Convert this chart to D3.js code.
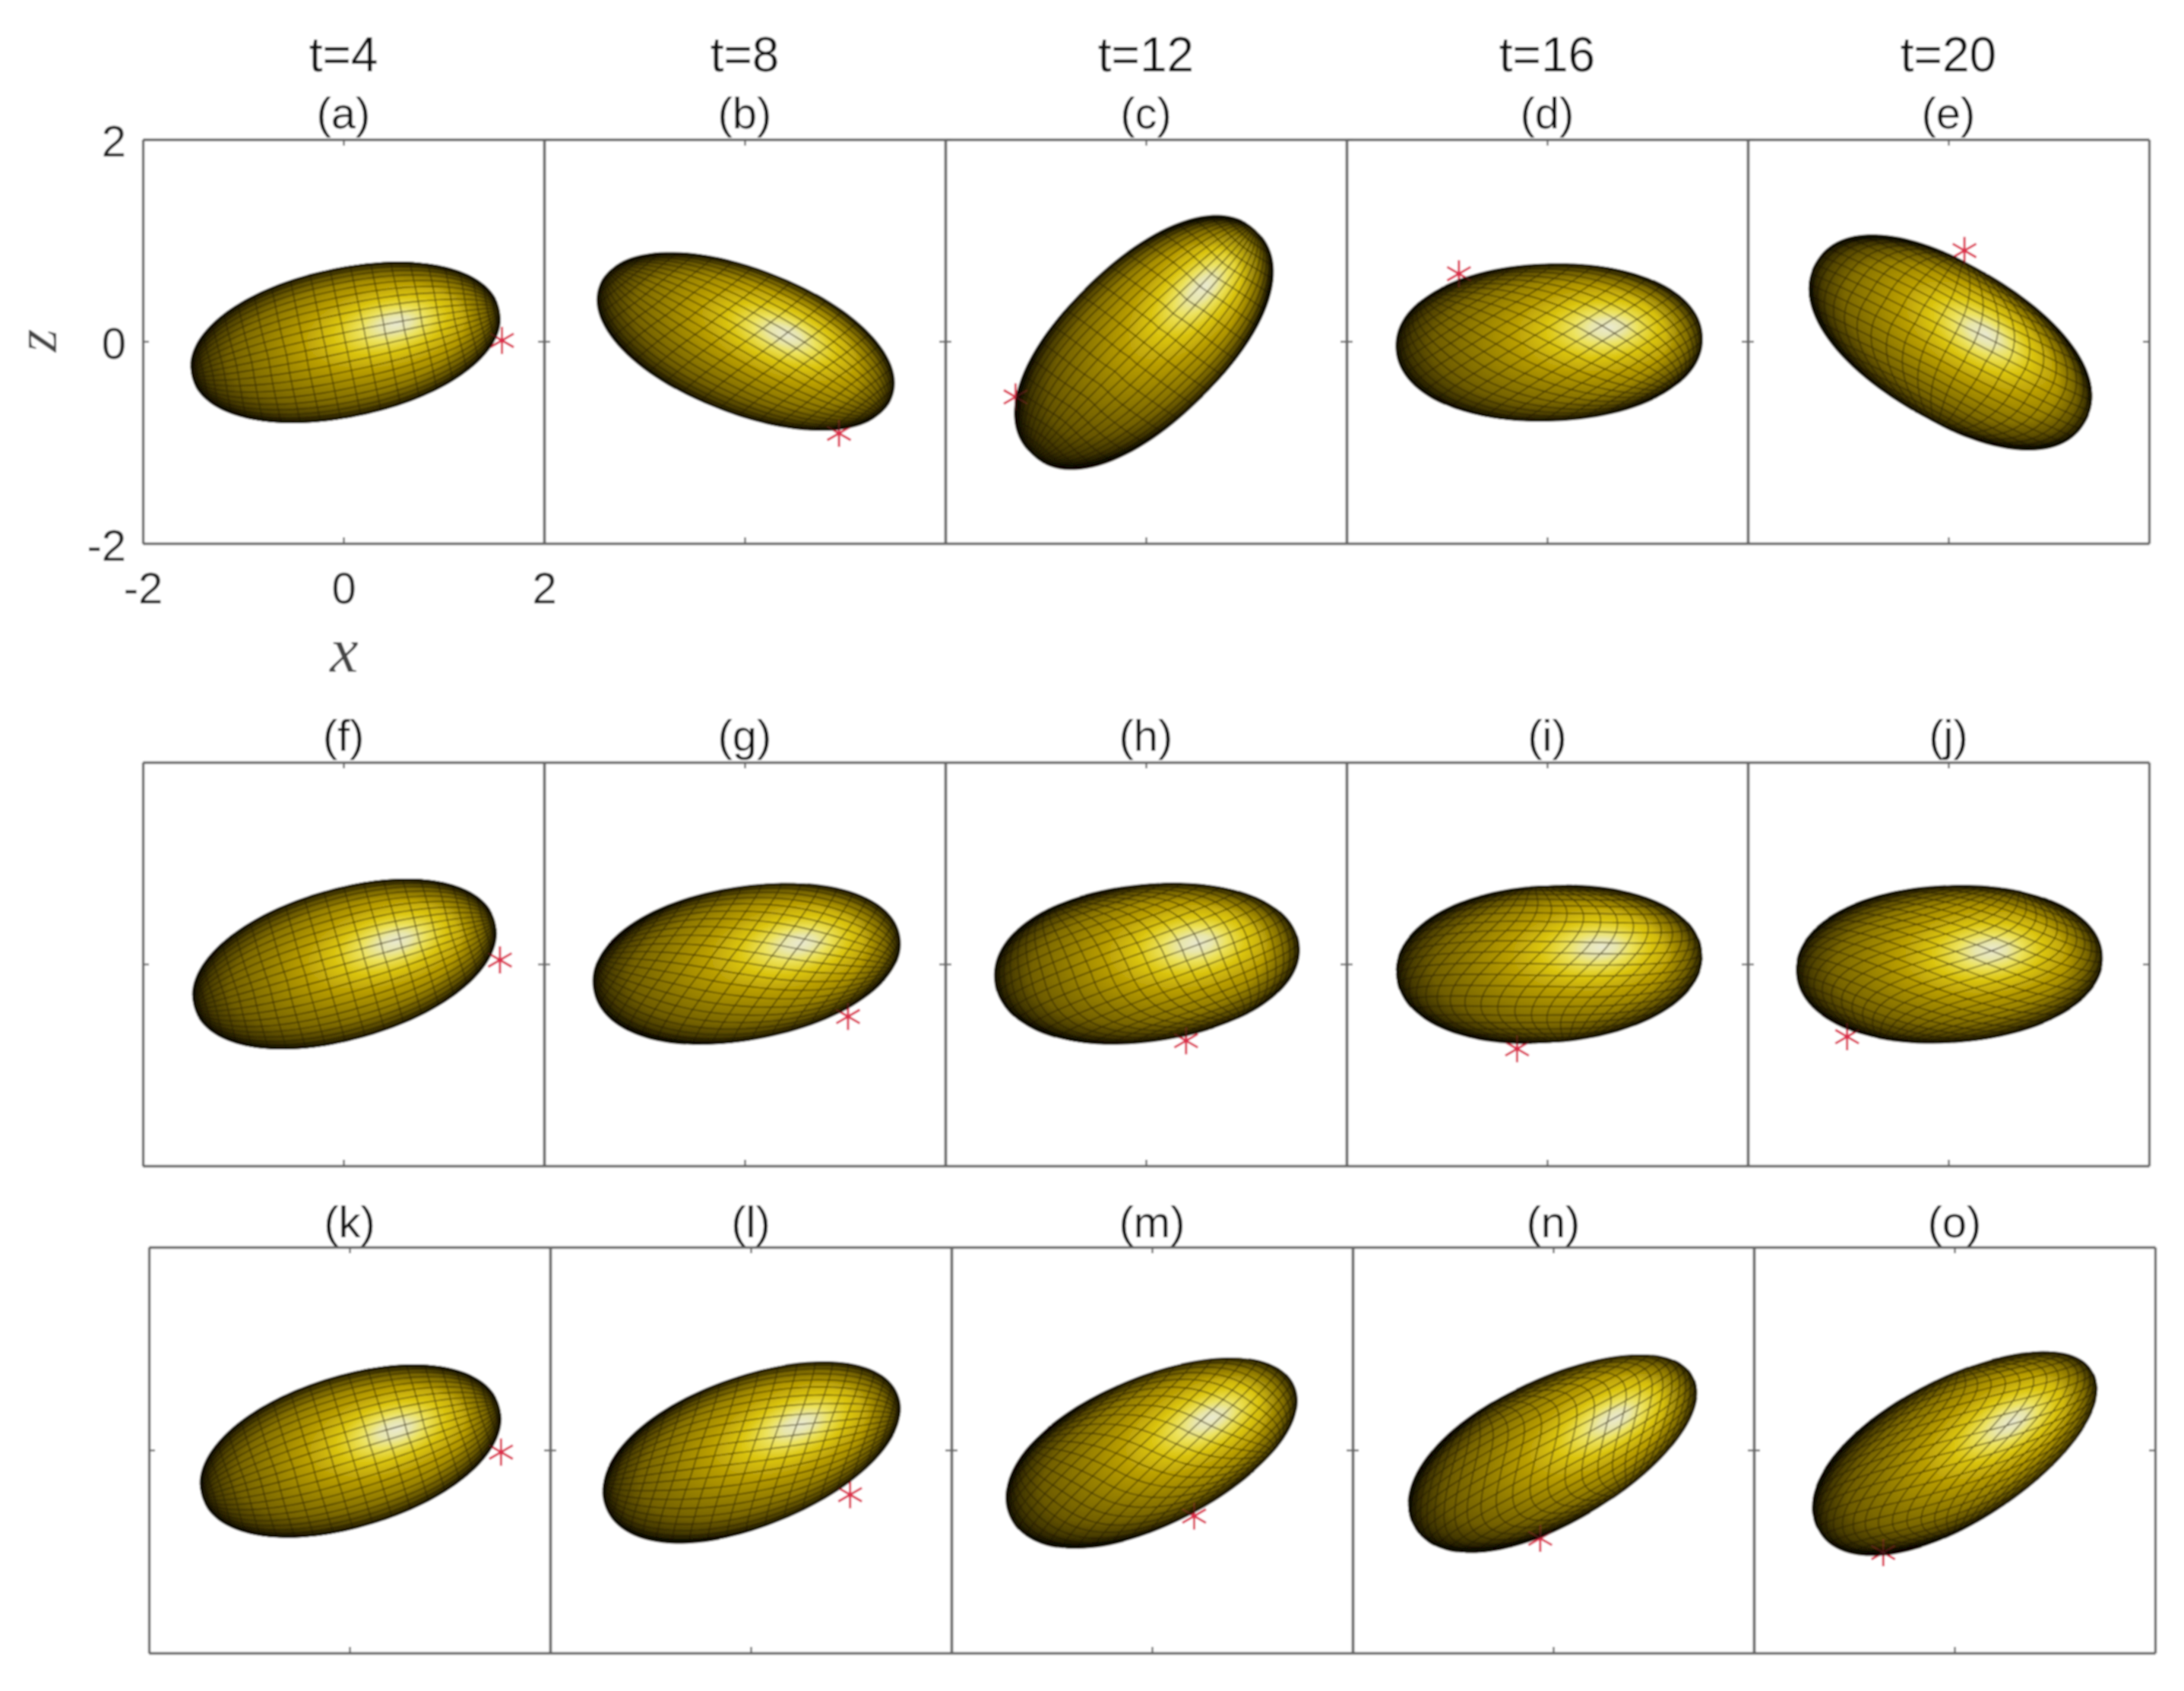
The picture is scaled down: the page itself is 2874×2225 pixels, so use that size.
<!DOCTYPE html>
<html><head><meta charset="utf-8">
<script src="https://cdn.jsdelivr.net/npm/d3@7"></script>
<style>html,body{margin:0;background:#fff}svg{display:block}</style></head>
<body><svg id="c" width="2874" height="2225"></svg>
<script>
// ---- Data (data units: x and z, axes run -2..2) ----
const panelLabels = ["(a)","(b)","(c)","(d)","(e)","(f)","(g)","(h)","(i)","(j)","(k)","(l)","(m)","(n)","(o)"];
const timeLabels  = ["t=4","t=8","t=12","t=16","t=20"];
const xTickValues = [-2,0,2];
const zTickValues = [-2,0,2];
const centerX = [.02,.01,-.02,.02,.02, .01,.02,.01,.02,.01, .01,.01,0,0,.01];
const centerZ = [-.01,0,-.01,-.01,-.01, 0,.01,.01,0,0, -.01,-.01,-.01,-.01,-.01];
const semiLong  = [1.57,1.56,1.58,1.53,1.56, 1.56,1.55,1.53,1.53,1.53, 1.55,1.56,1.56,1.58,1.58];
const semiShort = [.74,.72,.79,.78,.77, .75,.76,.78,.78,.78, .75,.74,.73,.71,.71];
const tiltDeg   = [12,-21,44,2,-31, 16,10,7,4,3, 17,21,25,28,30];
const squareness= [2.08,2.08,2.2,2.1,2.2, 2.08,2.1,2.1,2.1,2.1, 2.08,2.08,2.08,2.08,2.08];
const eggShape  = [0,0,0,0,0, 0,.03,.03,.02,.02, 0,.04,.06,.08,.08];
const markerX = [1.58,.94,-1.30,-.88,.16, 1.56,1.03,.40,-.30,-1.01, 1.51,.99,.42,-.13,-.71];
const markerZ = [.01,-.91,-.55,.67,.90, .04,-.52,-.76,-.84,-.72, -.02,-.44,-.65,-.87,-1.01];
const glowX = [.53,.42,.59,.62,.37, .53,.56,.52,.55,.44, .47,.50,.60,.63,.58];
const glowZ = [.18,.07,.55,.14,.07, .23,.21,.21,.17,.14, .21,.26,.32,.32,.28];
const meshPoleDeg = [0,-15,5,140,100, 0,-25,-60,-90,-120, 0,-20,-50,-80,-110];
const meshTwist   = [0,.1,.1,.2,.25, 0,.3,.6,1,1.1, 0,.2,.5,1,1.2];
// ---- Layout ----
const rows = [{x0:188,top:183.5,bot:715},{x0:188,top:1003,bot:1534},{x0:196,top:1641,bot:2175}];
const panelW = 528;
const svg = d3.select("#c");
const defs = svg.append("defs");
const blur = defs.append("filter").attr("id","soft").attr("filterUnits","userSpaceOnUse")
  .attr("x",0).attr("y",0).attr("width",2874).attr("height",2225);
blur.append("feGaussianBlur").attr("stdDeviation",1);
const edge = defs.append("radialGradient").attr("id","edge");
[[0,"#1c1600",0],[.76,"#1c1600",0],[.9,"#1c1600",.3],[.97,"#0c0900",.62],[1,"#000",.85]]
  .forEach(s=>edge.append("stop").attr("offset",s[0]).attr("stop-color",s[1]).attr("stop-opacity",s[2]));
const root = svg.append("g").attr("filter","url(#soft)");
root.append("rect").attr("width",2874).attr("height",2225).attr("fill","#fff");
const frameColor="#666", textColor="#222", font="'Liberation Sans',Arial,sans-serif";
const shadeStops=[[0,"#e9e9d0"],[.08,"#e8e6ac"],[.16,"#ece25c"],[.27,"#dcc612"],[.42,"#b89d04"],[.6,"#917b00"],[.8,"#685700"],[1,"#3a3100"]];
const rad=Math.PI/180;
const tickText=v=>String(v);
panelLabels.forEach((lab,i)=>{
  const row=rows[Math.floor(i/5)], col=i%5, r=Math.floor(i/5);
  const left=row.x0+col*panelW;
  const x=d3.scaleLinear().domain([-2,2]).range([left,left+panelW]);
  const z=d3.scaleLinear().domain([-2,2]).range([row.bot,row.top]);
  const g=root.append("g");
  const ux=x(1)-x(0), uz=z(0)-z(1);
  const A=semiLong[i]*ux, B=semiShort[i]*uz, th=tiltDeg[i]*rad, n=squareness[i], egg=eggShape[i];
  const cx=x(centerX[i]), cz=z(centerZ[i]);
  const toLocal=(vx,vz)=>{
    const dx=x(vx)-cx, dy=cz-z(vz);
    return [(dx*Math.cos(th)+dy*Math.sin(th))/A,(-dx*Math.sin(th)+dy*Math.cos(th))/B];
  };
  const radius=f=>Math.pow(Math.pow(Math.abs(Math.cos(f)),n)+Math.pow(Math.abs(Math.sin(f)),n),-1/n);
  const shape=(s,t)=>{const f=Math.atan2(t,s),R=radius(f);return [s*R*A,-t*R*B*(1-egg*s*R)];};
  const mk=(vx,vz)=>g.append("path").attr("d",d3.symbol(d3.symbolAsterisk,900)())
     .attr("transform",`translate(${x(vx)},${z(vz)})`).attr("fill","none").attr("stroke","#dc2f4c");
  mk(markerX[i],markerZ[i]).attr("stroke-width",3);
  const s=g.append("g").attr("transform",`translate(${cx},${cz}) rotate(${-tiltDeg[i]})`);
  const outline=d3.range(0,360,3).map(d=>shape(Math.cos(d*rad),Math.sin(d*rad)));
  const d0=d3.line().curve(d3.curveCardinalClosed)(outline);
  const h=toLocal(glowX[i],glowZ[i]);
  const id="shade"+i;
  const gr=defs.append("radialGradient").attr("id",id)
     .attr("cx",.5+h[0]*.28).attr("cy",.5-h[1]*.28).attr("r",.66)
     .attr("fx",.5+h[0]*.5).attr("fy",.5-h[1]*.5);
  shadeStops.forEach(q=>gr.append("stop").attr("offset",q[0]).attr("stop-color",q[1]));
  s.append("path").attr("d",d0).attr("fill",`url(#${id})`);
  const az=meshPoleDeg[i]*rad, tw=meshTwist[i];
  const p=[Math.cos(az),Math.sin(az),0];
  const e1=[p[1],-p[0],0];
  const e2=[p[1]*e1[2]-p[2]*e1[1],p[2]*e1[0]-p[0]*e1[2],p[0]*e1[1]-p[1]*e1[0]];
  const pt=(lat,lon)=>{
    const L=lon+tw*.32*Math.sin(2*lat), T=lat+tw*.09*Math.sin(2*lon);
    const c=Math.cos(T), sn=Math.sin(T);
    return [0,1,2].map(k=>p[k]*sn+c*(e1[k]*Math.cos(L)+e2[k]*Math.sin(L)));
  };
  const line=d3.line().defined(q=>q[2]>0).x(q=>shape(q[0],q[1])[0]).y(q=>shape(q[0],q[1])[1]);
  let mesh="";
  d3.range(-82.5,90,7.5).forEach(lat=>{mesh+=line(d3.range(0,363,3).map(lon=>pt(lat*rad,lon*rad)))||"";});
  d3.range(0,360,7.5).forEach(lon=>{mesh+=line(d3.range(-81,82,3).map(lat=>pt(lat*rad,lon*rad)))||"";});
  s.append("path").attr("d",mesh).attr("fill","none").attr("stroke","#241b00").attr("stroke-opacity",.7).attr("stroke-width",1.4);
  s.append("path").attr("d",d0).attr("fill","url(#edge)");
  mk(markerX[i],markerZ[i]).attr("stroke-width",2).attr("stroke-opacity",.3);
  const bottomAxis=d3.axisBottom(x).tickValues(xTickValues).tickSize(-8).tickSizeOuter(0).tickFormat(i===0?tickText:"");
  const topAxis=d3.axisTop(x).tickValues([0]).tickSize(-8).tickSizeOuter(0).tickFormat("");
  const leftAxis=d3.axisLeft(z).tickValues(zTickValues).tickSize(-8).tickSizeOuter(0).tickFormat(i===0?tickText:"");
  const rightAxis=d3.axisRight(z).tickValues([0]).tickSize(-8).tickSizeOuter(0).tickFormat("");
  [[bottomAxis,0,row.bot,"b"],[topAxis,0,row.top,"t"],[leftAxis,left,0,"l"],[rightAxis,left+panelW,0,"r"]].forEach(a=>{
    const ag=g.append("g").attr("transform",`translate(${a[1]},${a[2]})`).call(a[0]);
    ag.select(".domain").attr("stroke",frameColor).attr("stroke-width",3.4);
    ag.selectAll("line").attr("stroke",frameColor).attr("stroke-width",2.4);
    const tx=ag.selectAll("text").attr("font-family",font).attr("font-size",58).attr("fill",textColor);
    if(a[3]==="b") tx.attr("dy",0).attr("y",79);
    if(a[3]==="l") tx.attr("x",-22).attr("dy","0.38em");
  });
  const titleY=[169,988,1628][r];
  g.append("text").text(lab).attr("x",x(0)).attr("y",titleY).attr("text-anchor","middle")
    .attr("font-family",font).attr("font-size",58).attr("fill","#111");
  if(r===0) g.append("text").text(timeLabels[col]).attr("x",x(0)).attr("y",94).attr("text-anchor","middle")
    .attr("font-family",font).attr("font-size",64).attr("fill","#111");
});
root.append("text").text("x").attr("x",453).attr("y",884).attr("text-anchor","middle")
  .attr("font-family","'Liberation Serif',serif").attr("font-style","italic").attr("font-size",84).attr("fill","#444");
root.append("text").text("z").attr("transform","translate(74,448) rotate(-90)").attr("text-anchor","middle")
  .attr("font-family","'Liberation Serif',serif").attr("font-style","italic").attr("font-size",78).attr("fill","#444");
</script></body></html>
